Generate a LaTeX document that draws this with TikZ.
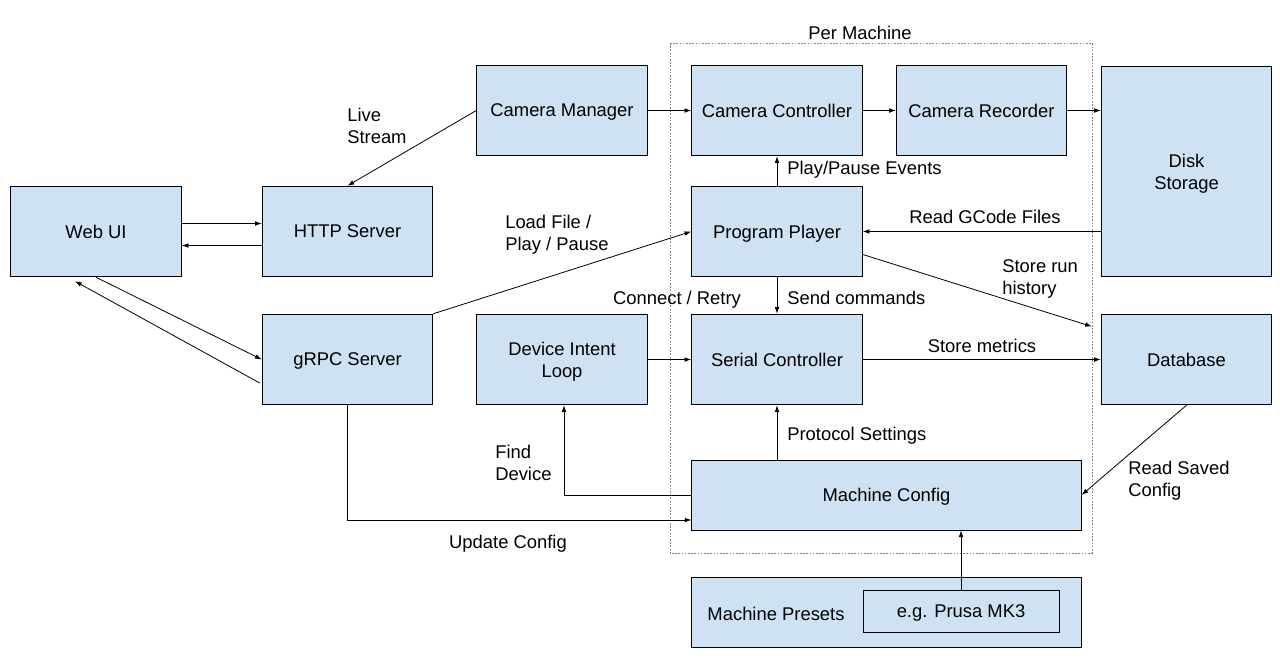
\documentclass[tikz,border=0pt]{standalone}
\usepackage{fontspec}
\setmainfont{Liberation Sans}
\usetikzlibrary{arrows.meta,calc}
\definecolor{boxblue}{HTML}{CFE2F3}

\begin{document}
\begin{tikzpicture}[x=0.75pt, y=-0.75pt,
    font=\fontsize{13.8}{16.5}\selectfont,
    box/.style={draw, fill=boxblue, line width=0.6pt, inner sep=0pt, align=center,
      text depth=0pt, minimum width=128pt, minimum height=68pt},
    flow/.style={-{Latex[length=5pt,width=3.5pt]}, line width=0.6pt},
    lbl/.style={inner sep=0pt, align=left, text depth=0pt}]
  \useasboundingbox (0,0) rectangle (1280,665);

  % per machine group
  \draw[gray, dash pattern=on 1.2pt off 1.2pt] (670,43) rectangle (1092,553);
  \node (permachine) [lbl] at (860,33) {Per Machine};

  % boxes
  \node (webui)   [box] at (96,231.5)    {Web UI};
  \node (http)    [box] at (347.5,231.5) {HTTP Server};
  \node (grpc)    [box] at (347.5,359.5) {gRPC Server};
  \node (cammgr)  [box] at (562,110.5)   {Camera Manager};
  \node (intent)  [box] at (562,359.5)   {Device Intent\\Loop};
  \node (camctrl) [box] at (777,110.5)   {Camera Controller};
  \node (camrec)  [box] at (981.5,110.5) {Camera Recorder};
  \node (player)  [box] at (777,231.5)   {Program Player};
  \node (serial)  [box] at (777,359.5)   {Serial Controller};
  \node (disk)    [box, minimum height=158pt] at (1186.5,171.5) {Disk\\Storage};
  \node (db)      [box] at (1186.5,359.5) {Database};
  \node (mconf)   [box, minimum width=292pt, minimum height=52.5pt] at (886.5,495) {Machine Config};
  \node (presets) [box, minimum width=292pt, minimum height=53pt] at (886.5,612.5) {};
  \node (presetslbl) [lbl] at (776,614) {Machine Presets};
  \node (prusa)   [box, minimum width=147pt, minimum height=31.5pt] at (961,611) {e.g. Prusa MK3};

  % connectors
  \draw[flow] (cammgr) -- (camctrl);
  \draw[flow] (camctrl) -- (camrec);
  \draw[flow] (camrec.east) -- (camrec.east -| disk.west);
  \draw[flow] (cammgr.west) -- (http.north);
  \draw[flow] ($(webui.east)+(0,-8)$) -- ($(http.west)+(0,-8)$);
  \draw[flow] ($(http.west)+(0,14)$) -- ($(webui.east)+(0,14)$);
  \draw[flow] (webui.south) -- (grpc.west);
  \draw[flow] ($(grpc.west)+(-2,23.5)$) -- ($(webui.south)+(-21,4)$);
  \draw[flow] (grpc.north east) -- (player.west);
  \draw[flow] (player.north) -- (camctrl.south);
  \draw[flow] (player.south) -- (serial.north);
  \draw[flow] (player.east -| disk.west) -- (player.east);
  \draw[flow] (player.-15) -- ($(db.west)+(-9,-33)$);
  \draw[flow] (serial.east) -- (db.west);
  \draw[flow] (intent.east) -- (serial.west);
  \draw[flow] (serial.south |- mconf.north) -- (serial.south);
  \draw[flow] (mconf.west) -| ($(intent.south)+(2,0)$);
  \draw[flow] (grpc.south) |- ($(mconf.west)+(0,25)$);
  \draw[flow] (db.south) -- (mconf.east);
  \draw[flow] (prusa.north) -- (prusa.north |- mconf.south);

  % labels
  \node (livestream) [lbl, anchor=west] at (347,126) {Live\\Stream};
  \node (loadfile) [lbl, anchor=west] at (505,233) {Load File /\\Play / Pause};
  \node (playevents) [lbl, anchor=west] at (787,168) {Play/Pause Events};
  \node (readgcode) [lbl] at (985,217) {Read GCode Files};
  \node (storerun) [lbl, anchor=west] at (1002,277.5) {Store run\\history};
  \node (connect) [lbl] at (677,298) {Connect / Retry};
  \node (sendcmd) [lbl, anchor=west] at (787,298) {Send commands};
  \node (storemetrics) [lbl] at (982,346) {Store metrics};
  \node (protocol) [lbl, anchor=west] at (787,434) {Protocol Settings};
  \node (finddevice) [lbl, anchor=west] at (495,463) {Find\\Device};
  \node (updateconf) [lbl] at (508,542) {Update Config};
  \node (readsaved) [lbl, anchor=west] at (1128,479) {Read Saved\\Config};
\end{tikzpicture}
\end{document}
